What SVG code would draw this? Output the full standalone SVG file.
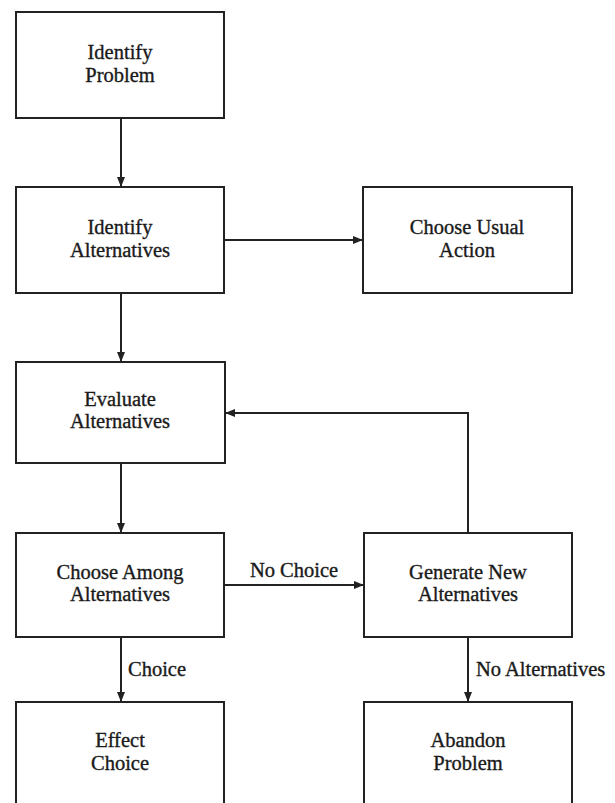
<svg xmlns="http://www.w3.org/2000/svg" width="615" height="803" viewBox="0 0 615 803">
<style>
.box{fill:#fff;stroke:#222;stroke-width:2}
.t{font-family:"Liberation Serif","Times New Roman",serif;font-size:20.5px;fill:#1a1a1a;stroke:#1a1a1a;stroke-width:0.35;text-anchor:middle}
.l{font-family:"Liberation Serif","Times New Roman",serif;font-size:20.5px;fill:#1a1a1a;stroke:#1a1a1a;stroke-width:0.35}
.c{fill:none;stroke:#222;stroke-width:2}
</style>
<defs>
<marker id="arr" viewBox="0 0 10 8" refX="10" refY="4" markerWidth="10" markerHeight="8" markerUnits="userSpaceOnUse" orient="auto">
<path d="M0,0 L10,4 L0,8 Z" fill="#222"/>
</marker>
</defs>
<rect width="615" height="803" fill="#fff"/>
<g id="connectors">
<line class="c" x1="121" y1="118" x2="121" y2="187" marker-end="url(#arr)"/>
<line class="c" x1="224" y1="240" x2="363" y2="240" marker-end="url(#arr)"/>
<line class="c" x1="121" y1="293" x2="121" y2="362" marker-end="url(#arr)"/>
<line class="c" x1="121" y1="463" x2="121" y2="533" marker-end="url(#arr)"/>
<polyline class="c" points="468,533 468,413 225,413" marker-end="url(#arr)"/>
<line class="c" x1="224" y1="585" x2="364" y2="585" marker-end="url(#arr)"/>
<text class="t" x="294" y="577">No Choice</text>
<line class="c" x1="121" y1="637" x2="121" y2="702" marker-end="url(#arr)"/>
<text class="l" x="128" y="676">Choice</text>
<line class="c" x1="468" y1="637" x2="468" y2="702" marker-end="url(#arr)"/>
<text class="l" x="476" y="676">No Alternatives</text>
</g>
<g id="identify-problem">
<rect class="box" x="16" y="12" width="208" height="106"/>
<text class="t" x="120" y="59">Identify</text>
<text class="t" x="120" y="82">Problem</text>
</g>
<g id="identify-alternatives">
<rect class="box" x="16" y="187" width="208" height="106"/>
<text class="t" x="120" y="234">Identify</text>
<text class="t" x="120" y="257">Alternatives</text>
</g>
<g id="choose-usual-action">
<rect class="box" x="363" y="187" width="209" height="106"/>
<text class="t" x="467" y="234">Choose Usual</text>
<text class="t" x="467" y="257">Action</text>
</g>
<g id="evaluate-alternatives">
<rect class="box" x="16" y="362" width="209" height="101"/>
<text class="t" x="120" y="406">Evaluate</text>
<text class="t" x="120" y="428">Alternatives</text>
</g>
<g id="choose-among-alternatives">
<rect class="box" x="16" y="533" width="208" height="104"/>
<text class="t" x="120" y="579">Choose Among</text>
<text class="t" x="120" y="601">Alternatives</text>
</g>
<g id="generate-new-alternatives">
<rect class="box" x="364" y="533" width="208" height="104"/>
<text class="t" x="468" y="579">Generate New</text>
<text class="t" x="468" y="601">Alternatives</text>
</g>
<g id="effect-choice">
<rect class="box" x="16" y="702" width="208" height="106"/>
<text class="t" x="120" y="747">Effect</text>
<text class="t" x="120" y="770">Choice</text>
</g>
<g id="abandon-problem">
<rect class="box" x="364" y="702" width="208" height="106"/>
<text class="t" x="468" y="747">Abandon</text>
<text class="t" x="468" y="770">Problem</text>
</g>
</svg>
